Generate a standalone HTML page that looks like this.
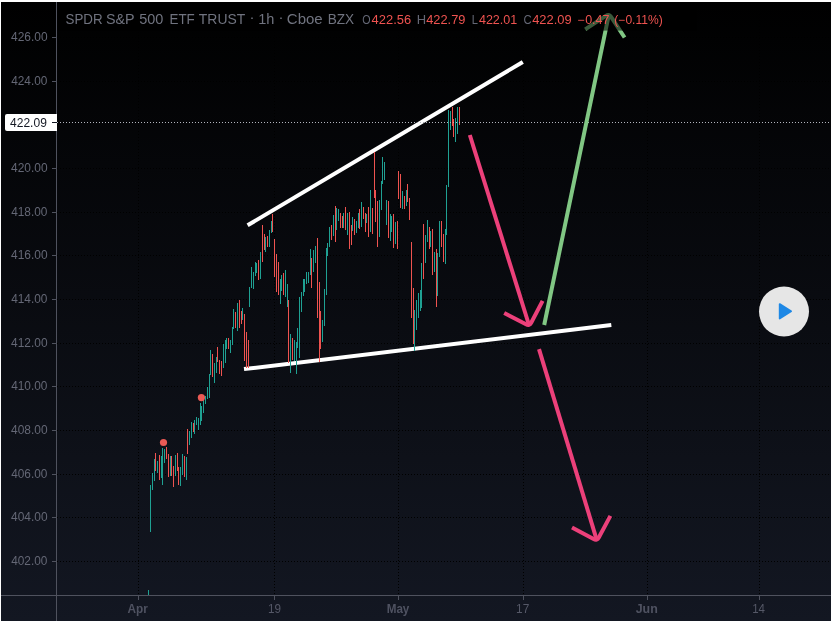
<!DOCTYPE html><html><head><meta charset="utf-8"><title>SPDR S&amp;P 500 ETF TRUST</title><style>html,body{margin:0;padding:0;background:#000;}#c{position:relative;width:832px;height:622px;overflow:hidden;}</style></head><body><div id="c"><svg width="832" height="622" viewBox="0 0 832 622" style="position:absolute;left:0;top:0"><defs><linearGradient id="bg" x1="0" y1="0" x2="0" y2="1"><stop offset="0" stop-color="#000000"/><stop offset="1" stop-color="#131722"/></linearGradient></defs><rect x="0" y="0" width="832" height="622" fill="#ffffff"/><rect x="1" y="2" width="830" height="619" fill="url(#bg)"/><g shape-rendering="crispEdges"><path d="M57 37.5H831" stroke="#000" stroke-width="1" stroke-dasharray="1 2" stroke-dashoffset="0"/><path d="M57 81.5H831" stroke="#000" stroke-width="1" stroke-dasharray="1 2" stroke-dashoffset="0"/><path d="M57 168.5H831" stroke="#000" stroke-width="1" stroke-dasharray="1 2" stroke-dashoffset="0"/><path d="M57 212.5H831" stroke="#000" stroke-width="1" stroke-dasharray="1 2" stroke-dashoffset="0"/><path d="M57 255.5H831" stroke="#000" stroke-width="1" stroke-dasharray="1 2" stroke-dashoffset="0"/><path d="M57 299.5H831" stroke="#000" stroke-width="1" stroke-dasharray="1 2" stroke-dashoffset="0"/><path d="M57 343.5H831" stroke="#000" stroke-width="1" stroke-dasharray="1 2" stroke-dashoffset="0"/><path d="M57 386.5H831" stroke="#000" stroke-width="1" stroke-dasharray="1 2" stroke-dashoffset="0"/><path d="M57 430.5H831" stroke="#000" stroke-width="1" stroke-dasharray="1 2" stroke-dashoffset="0"/><path d="M57 474.5H831" stroke="#000" stroke-width="1" stroke-dasharray="1 2" stroke-dashoffset="0"/><path d="M57 517.5H831" stroke="#000" stroke-width="1" stroke-dasharray="1 2" stroke-dashoffset="0"/><path d="M57 561.5H831" stroke="#000" stroke-width="1" stroke-dasharray="1 2" stroke-dashoffset="0"/><path d="M138.5 2V595" stroke="#000" stroke-width="1" stroke-dasharray="1 2" stroke-dashoffset="0"/><path d="M274.5 2V595" stroke="#000" stroke-width="1" stroke-dasharray="1 2" stroke-dashoffset="0"/><path d="M398.5 2V595" stroke="#000" stroke-width="1" stroke-dasharray="1 2" stroke-dashoffset="0"/><path d="M523.5 2V595" stroke="#000" stroke-width="1" stroke-dasharray="1 2" stroke-dashoffset="0"/><path d="M647.5 2V595" stroke="#000" stroke-width="1" stroke-dasharray="1 2" stroke-dashoffset="0"/><path d="M759.5 2V595" stroke="#000" stroke-width="1" stroke-dasharray="1 2" stroke-dashoffset="0"/></g><path d="M247.6 225.3L522.8 62" stroke="#fff" stroke-width="4"/><path d="M244 369.1L611.3 325.1" stroke="#fff" stroke-width="4"/><g shape-rendering="crispEdges"><rect x="148" y="590" width="1" height="5" fill="#1fa193"/><rect x="150" y="485" width="1" height="47" fill="#1fa193"/><rect x="152" y="473" width="1" height="17" fill="#1fa193"/><rect x="154" y="459" width="1" height="22" fill="#1fa193"/><rect x="155" y="453" width="1" height="18" fill="#ef5350"/><rect x="157" y="461" width="1" height="12" fill="#1fa193"/><rect x="159" y="455" width="1" height="25" fill="#ef5350"/><rect x="161" y="456" width="1" height="22" fill="#1fa193"/><rect x="162" y="448" width="1" height="37" fill="#1fa193"/><rect x="164" y="449" width="1" height="14" fill="#1fa193"/><rect x="166" y="447" width="1" height="12" fill="#ef5350"/><rect x="168" y="454" width="1" height="23" fill="#ef5350"/><rect x="170" y="456" width="1" height="20" fill="#1fa193"/><rect x="171" y="456" width="1" height="20" fill="#ef5350"/><rect x="173" y="466" width="1" height="21" fill="#ef5350"/><rect x="175" y="455" width="1" height="21" fill="#1fa193"/><rect x="177" y="453" width="1" height="18" fill="#ef5350"/><rect x="178" y="467" width="1" height="18" fill="#ef5350"/><rect x="180" y="467" width="1" height="19" fill="#1fa193"/><rect x="182" y="454" width="1" height="21" fill="#1fa193"/><rect x="184" y="456" width="1" height="21" fill="#ef5350"/><rect x="186" y="457" width="1" height="23" fill="#1fa193"/><rect x="187" y="429" width="1" height="25" fill="#ef5350"/><rect x="189" y="431" width="1" height="14" fill="#1fa193"/><rect x="191" y="422" width="1" height="16" fill="#1fa193"/><rect x="193" y="423" width="1" height="9" fill="#ef5350"/><rect x="194" y="420" width="1" height="14" fill="#1fa193"/><rect x="196" y="417" width="1" height="8" fill="#1fa193"/><rect x="198" y="418" width="1" height="12" fill="#1fa193"/><rect x="200" y="403" width="1" height="22" fill="#1fa193"/><rect x="201" y="406" width="1" height="15" fill="#1fa193"/><rect x="203" y="400" width="1" height="13" fill="#1fa193"/><rect x="205" y="396" width="1" height="8" fill="#1fa193"/><rect x="207" y="387" width="1" height="12" fill="#1fa193"/><rect x="209" y="374" width="1" height="24" fill="#1fa193"/><rect x="210" y="350" width="1" height="25" fill="#1fa193"/><rect x="212" y="354" width="1" height="23" fill="#ef5350"/><rect x="214" y="363" width="1" height="20" fill="#1fa193"/><rect x="216" y="357" width="1" height="16" fill="#1fa193"/><rect x="217" y="347" width="1" height="15" fill="#ef5350"/><rect x="219" y="360" width="1" height="14" fill="#ef5350"/><rect x="221" y="361" width="1" height="15" fill="#ef5350"/><rect x="223" y="344" width="1" height="24" fill="#1fa193"/><rect x="225" y="340" width="1" height="23" fill="#1fa193"/><rect x="226" y="338" width="1" height="11" fill="#1fa193"/><rect x="228" y="338" width="1" height="11" fill="#ef5350"/><rect x="230" y="340" width="1" height="13" fill="#1fa193"/><rect x="232" y="327" width="1" height="18" fill="#1fa193"/><rect x="233" y="309" width="1" height="20" fill="#1fa193"/><rect x="235" y="312" width="1" height="16" fill="#ef5350"/><rect x="237" y="303" width="1" height="28" fill="#1fa193"/><rect x="239" y="300" width="1" height="28" fill="#ef5350"/><rect x="241" y="311" width="1" height="13" fill="#ef5350"/><rect x="242" y="308" width="1" height="12" fill="#1fa193"/><rect x="244" y="314" width="1" height="47" fill="#ef5350"/><rect x="246" y="332" width="1" height="36" fill="#ef5350"/><rect x="248" y="340" width="1" height="28" fill="#ef5350"/><rect x="249" y="287" width="1" height="20" fill="#1fa193"/><rect x="251" y="267" width="1" height="21" fill="#1fa193"/><rect x="253" y="272" width="1" height="17" fill="#1fa193"/><rect x="255" y="262" width="1" height="14" fill="#1fa193"/><rect x="256" y="263" width="1" height="10" fill="#1fa193"/><rect x="258" y="260" width="1" height="20" fill="#ef5350"/><rect x="260" y="252" width="1" height="27" fill="#1fa193"/><rect x="262" y="225" width="1" height="37" fill="#ef5350"/><rect x="264" y="234" width="1" height="16" fill="#ef5350"/><rect x="265" y="237" width="1" height="15" fill="#1fa193"/><rect x="267" y="236" width="1" height="11" fill="#ef5350"/><rect x="269" y="230" width="1" height="17" fill="#1fa193"/><rect x="271" y="221" width="1" height="12" fill="#1fa193"/><rect x="272" y="214" width="1" height="18" fill="#ef5350"/><rect x="274" y="239" width="1" height="38" fill="#ef5350"/><rect x="276" y="254" width="1" height="38" fill="#ef5350"/><rect x="278" y="262" width="1" height="33" fill="#ef5350"/><rect x="280" y="279" width="1" height="25" fill="#1fa193"/><rect x="281" y="275" width="1" height="16" fill="#1fa193"/><rect x="283" y="273" width="1" height="22" fill="#ef5350"/><rect x="285" y="270" width="1" height="27" fill="#1fa193"/><rect x="287" y="284" width="1" height="23" fill="#1fa193"/><rect x="288" y="300" width="1" height="63" fill="#ef5350"/><rect x="290" y="334" width="1" height="39" fill="#1fa193"/><rect x="292" y="338" width="1" height="22" fill="#ef5350"/><rect x="294" y="340" width="1" height="21" fill="#1fa193"/><rect x="296" y="342" width="1" height="32" fill="#1fa193"/><rect x="297" y="328" width="1" height="20" fill="#1fa193"/><rect x="299" y="297" width="1" height="61" fill="#1fa193"/><rect x="301" y="292" width="1" height="20" fill="#1fa193"/><rect x="303" y="279" width="1" height="17" fill="#1fa193"/><rect x="304" y="279" width="1" height="13" fill="#1fa193"/><rect x="306" y="272" width="1" height="12" fill="#1fa193"/><rect x="308" y="272" width="1" height="11" fill="#1fa193"/><rect x="310" y="249" width="1" height="26" fill="#1fa193"/><rect x="311" y="258" width="1" height="30" fill="#ef5350"/><rect x="313" y="250" width="1" height="22" fill="#1fa193"/><rect x="315" y="246" width="1" height="17" fill="#1fa193"/><rect x="317" y="238" width="1" height="80" fill="#ef5350"/><rect x="319" y="282" width="1" height="80" fill="#ef5350"/><rect x="320" y="311" width="1" height="38" fill="#ef5350"/><rect x="322" y="320" width="1" height="22" fill="#1fa193"/><rect x="324" y="289" width="1" height="37" fill="#1fa193"/><rect x="326" y="248" width="1" height="47" fill="#1fa193"/><rect x="327" y="243" width="1" height="13" fill="#1fa193"/><rect x="329" y="227" width="1" height="20" fill="#1fa193"/><rect x="331" y="225" width="1" height="15" fill="#ef5350"/><rect x="333" y="215" width="1" height="21" fill="#1fa193"/><rect x="335" y="206" width="1" height="36" fill="#ef5350"/><rect x="336" y="208" width="1" height="22" fill="#1fa193"/><rect x="338" y="209" width="1" height="12" fill="#1fa193"/><rect x="340" y="213" width="1" height="15" fill="#ef5350"/><rect x="342" y="216" width="1" height="12" fill="#ef5350"/><rect x="343" y="213" width="1" height="15" fill="#1fa193"/><rect x="345" y="207" width="1" height="23" fill="#ef5350"/><rect x="347" y="213" width="1" height="22" fill="#1fa193"/><rect x="349" y="212" width="1" height="37" fill="#ef5350"/><rect x="351" y="225" width="1" height="20" fill="#ef5350"/><rect x="352" y="217" width="1" height="14" fill="#1fa193"/><rect x="354" y="219" width="1" height="16" fill="#ef5350"/><rect x="356" y="221" width="1" height="12" fill="#1fa193"/><rect x="358" y="213" width="1" height="15" fill="#1fa193"/><rect x="359" y="209" width="1" height="20" fill="#ef5350"/><rect x="361" y="202" width="1" height="25" fill="#1fa193"/><rect x="363" y="207" width="1" height="12" fill="#ef5350"/><rect x="365" y="213" width="1" height="19" fill="#ef5350"/><rect x="366" y="214" width="1" height="9" fill="#1fa193"/><rect x="368" y="207" width="1" height="30" fill="#ef5350"/><rect x="370" y="190" width="1" height="42" fill="#1fa193"/><rect x="372" y="208" width="1" height="26" fill="#ef5350"/><rect x="374" y="152" width="1" height="46" fill="#ef5350"/><rect x="375" y="190" width="1" height="32" fill="#ef5350"/><rect x="377" y="201" width="1" height="46" fill="#ef5350"/><rect x="379" y="200" width="1" height="37" fill="#1fa193"/><rect x="381" y="181" width="1" height="29" fill="#1fa193"/><rect x="382" y="157" width="1" height="27" fill="#1fa193"/><rect x="384" y="162" width="1" height="18" fill="#1fa193"/><rect x="386" y="200" width="1" height="25" fill="#1fa193"/><rect x="388" y="201" width="1" height="37" fill="#ef5350"/><rect x="390" y="214" width="1" height="27" fill="#1fa193"/><rect x="391" y="216" width="1" height="16" fill="#1fa193"/><rect x="393" y="214" width="1" height="34" fill="#ef5350"/><rect x="395" y="222" width="1" height="22" fill="#1fa193"/><rect x="397" y="221" width="1" height="28" fill="#ef5350"/><rect x="398" y="171" width="1" height="28" fill="#ef5350"/><rect x="400" y="174" width="1" height="34" fill="#ef5350"/><rect x="402" y="191" width="1" height="18" fill="#1fa193"/><rect x="404" y="196" width="1" height="13" fill="#ef5350"/><rect x="406" y="190" width="1" height="16" fill="#1fa193"/><rect x="407" y="184" width="1" height="18" fill="#ef5350"/><rect x="409" y="198" width="1" height="22" fill="#ef5350"/><rect x="411" y="242" width="1" height="76" fill="#ef5350"/><rect x="413" y="288" width="1" height="56" fill="#ef5350"/><rect x="414" y="310" width="1" height="41" fill="#1fa193"/><rect x="416" y="300" width="1" height="30" fill="#1fa193"/><rect x="418" y="293" width="1" height="25" fill="#1fa193"/><rect x="420" y="290" width="1" height="21" fill="#1fa193"/><rect x="421" y="263" width="1" height="45" fill="#1fa193"/><rect x="423" y="224" width="1" height="55" fill="#ef5350"/><rect x="425" y="235" width="1" height="28" fill="#1fa193"/><rect x="427" y="220" width="1" height="22" fill="#1fa193"/><rect x="429" y="227" width="1" height="22" fill="#ef5350"/><rect x="430" y="231" width="1" height="16" fill="#1fa193"/><rect x="432" y="229" width="1" height="46" fill="#ef5350"/><rect x="434" y="252" width="1" height="20" fill="#1fa193"/><rect x="436" y="249" width="1" height="58" fill="#ef5350"/><rect x="437" y="253" width="1" height="43" fill="#1fa193"/><rect x="439" y="221" width="1" height="36" fill="#1fa193"/><rect x="441" y="221" width="1" height="26" fill="#ef5350"/><rect x="443" y="234" width="1" height="28" fill="#ef5350"/><rect x="445" y="229" width="1" height="35" fill="#1fa193"/><rect x="446" y="185" width="1" height="50" fill="#1fa193"/><rect x="448" y="110" width="1" height="77" fill="#1fa193"/><rect x="450" y="111" width="1" height="19" fill="#1fa193"/><rect x="452" y="107" width="1" height="19" fill="#ef5350"/><rect x="453" y="119" width="1" height="18" fill="#ef5350"/><rect x="455" y="118" width="1" height="24" fill="#1fa193"/><rect x="457" y="107" width="1" height="27" fill="#1fa193"/><rect x="459" y="107" width="1" height="18" fill="#ef5350"/></g><circle cx="163.5" cy="442.5" r="3.6" fill="#ea5a55"/><circle cx="201.4" cy="397.6" r="3.6" fill="#ea5a55"/><path d="M57 122.5H831" stroke="#b2b5be" stroke-width="1" stroke-dasharray="1 2" shape-rendering="crispEdges"/><g shape-rendering="crispEdges" fill="#4f525e"><rect x="56" y="2" width="1" height="619"/><rect x="1" y="595" width="830" height="1"/><rect x="52" y="37" width="4" height="1"/><rect x="52" y="81" width="4" height="1"/><rect x="52" y="168" width="4" height="1"/><rect x="52" y="212" width="4" height="1"/><rect x="52" y="255" width="4" height="1"/><rect x="52" y="299" width="4" height="1"/><rect x="52" y="343" width="4" height="1"/><rect x="52" y="386" width="4" height="1"/><rect x="52" y="430" width="4" height="1"/><rect x="52" y="474" width="4" height="1"/><rect x="52" y="517" width="4" height="1"/><rect x="52" y="561" width="4" height="1"/><rect x="138" y="596" width="1" height="4"/><rect x="274" y="596" width="1" height="4"/><rect x="398" y="596" width="1" height="4"/><rect x="523" y="596" width="1" height="4"/><rect x="647" y="596" width="1" height="4"/><rect x="759" y="596" width="1" height="4"/></g><path d="M469.8 135.0L529.0 325.0" stroke="#ec407a" stroke-width="4" fill="none"/><path d="M504.2 312.9L526.0 324.3Q529.4 326.1 531.2 322.7L542.6 300.9" stroke="#ec407a" stroke-width="4" fill="none" stroke-linejoin="round"/><path d="M539.0 349.2L596.7 539.8" stroke="#ec407a" stroke-width="4" fill="none"/><path d="M572.0 527.5L593.6 539.1Q597.0 540.9 598.8 537.5L610.4 515.9" stroke="#ec407a" stroke-width="4" fill="none" stroke-linejoin="round"/><path d="M544.2 325.0L608.8 14.9" stroke="#81c784" stroke-width="4" fill="none"/><path d="M624.6 37.5L611.1 16.9Q609.0 13.7 605.8 15.8L585.2 29.3" stroke="#81c784" stroke-width="4" fill="none" stroke-linejoin="round"/><rect x="57" y="8" width="640" height="22.6" fill="#000" fill-opacity="0.55"/><circle cx="784" cy="311.5" r="25" fill="#e6e6e6"/><path d="M779.7 304.1L791.1 311.3L779.7 318.5Z" fill="#1e88e5" stroke="#1e88e5" stroke-width="1.8" stroke-linejoin="round"/><path d="M57 114H7a2 2 0 0 0-2 2v13a2 2 0 0 0 2 2H57Z" fill="#fff"/><rect x="52" y="122" width="5" height="1" fill="#131722"/></svg><svg width="832" height="622" viewBox="0 0 832 622" style="position:absolute;left:0;top:0;will-change:transform" font-family="Liberation Sans, DejaVu Sans, sans-serif"><text x="65.5" y="23.5" font-size="15" fill="#70737f" text-anchor="start" textLength="37.12" lengthAdjust="spacingAndGlyphs">SPDR</text><text x="106.03" y="23.5" font-size="15" fill="#70737f" text-anchor="start" textLength="28.62" lengthAdjust="spacingAndGlyphs">S&amp;P</text><text x="139.18" y="23.5" font-size="15" fill="#70737f" text-anchor="start" textLength="24.15" lengthAdjust="spacingAndGlyphs">500</text><text x="169.46" y="23.5" font-size="15" fill="#70737f" text-anchor="start" textLength="25.3" lengthAdjust="spacingAndGlyphs">ETF</text><text x="198.86" y="23.5" font-size="15" fill="#70737f" text-anchor="start" textLength="46.36" lengthAdjust="spacingAndGlyphs">TRUST</text><text x="252.0" y="22.3" font-size="15" fill="#70737f" text-anchor="middle">·</text><text x="258.29" y="23.5" font-size="15" fill="#70737f" text-anchor="start" textLength="16.15" lengthAdjust="spacingAndGlyphs">1h</text><text x="281.0" y="22.3" font-size="15" fill="#70737f" text-anchor="middle">·</text><text x="286.82" y="23.5" font-size="15" fill="#70737f" text-anchor="start" textLength="35.86" lengthAdjust="spacingAndGlyphs">Cboe</text><text x="327.72" y="23.5" font-size="15" fill="#70737f" text-anchor="start" textLength="26.47" lengthAdjust="spacingAndGlyphs">BZX</text><text x="362.21" y="23.5" font-size="11.9" fill="#646775" text-anchor="start" textLength="8.32" lengthAdjust="spacingAndGlyphs">O</text><text x="371.58" y="23.5" font-size="11.9" fill="#ef5350" text-anchor="start" textLength="39.53" lengthAdjust="spacingAndGlyphs">422.56</text><text x="416.82" y="23.5" font-size="11.9" fill="#646775" text-anchor="start" textLength="9.36" lengthAdjust="spacingAndGlyphs">H</text><text x="426.2" y="23.5" font-size="11.9" fill="#ef5350" text-anchor="start" textLength="39.23" lengthAdjust="spacingAndGlyphs">422.79</text><text x="471.8" y="23.5" font-size="11.9" fill="#646775" text-anchor="start" textLength="6.16" lengthAdjust="spacingAndGlyphs">L</text><text x="478.91" y="23.5" font-size="11.9" fill="#ef5350" text-anchor="start" textLength="38.34" lengthAdjust="spacingAndGlyphs">422.01</text><text x="523.43" y="23.5" font-size="11.9" fill="#646775" text-anchor="start" textLength="8.21" lengthAdjust="spacingAndGlyphs">C</text><text x="532.16" y="23.5" font-size="11.9" fill="#ef5350" text-anchor="start" textLength="39.47" lengthAdjust="spacingAndGlyphs">422.09</text><text x="577.85" y="23.5" font-size="11.9" fill="#ef5350" text-anchor="start" textLength="31.66" lengthAdjust="spacingAndGlyphs">−0.47</text><text x="614.36" y="23.5" font-size="11.9" fill="#ef5350" text-anchor="start" textLength="48.38" lengthAdjust="spacingAndGlyphs">(−0.11%)</text><text x="11.06" y="40.9" font-size="12" fill="#646775" text-anchor="start" textLength="36.53" lengthAdjust="spacingAndGlyphs">426.00</text><text x="11.2" y="84.9" font-size="12" fill="#646775" text-anchor="start" textLength="36.21" lengthAdjust="spacingAndGlyphs">424.00</text><text x="11.06" y="171.9" font-size="12" fill="#646775" text-anchor="start" textLength="36.53" lengthAdjust="spacingAndGlyphs">420.00</text><text x="11.2" y="215.9" font-size="12" fill="#646775" text-anchor="start" textLength="36.21" lengthAdjust="spacingAndGlyphs">418.00</text><text x="11.06" y="258.9" font-size="12" fill="#646775" text-anchor="start" textLength="36.53" lengthAdjust="spacingAndGlyphs">416.00</text><text x="11.2" y="302.9" font-size="12" fill="#646775" text-anchor="start" textLength="36.21" lengthAdjust="spacingAndGlyphs">414.00</text><text x="11.06" y="346.9" font-size="12" fill="#646775" text-anchor="start" textLength="36.53" lengthAdjust="spacingAndGlyphs">412.00</text><text x="11.2" y="389.9" font-size="12" fill="#646775" text-anchor="start" textLength="36.21" lengthAdjust="spacingAndGlyphs">410.00</text><text x="11.06" y="433.9" font-size="12" fill="#646775" text-anchor="start" textLength="36.53" lengthAdjust="spacingAndGlyphs">408.00</text><text x="11.2" y="477.9" font-size="12" fill="#646775" text-anchor="start" textLength="36.21" lengthAdjust="spacingAndGlyphs">406.00</text><text x="11.06" y="520.9" font-size="12" fill="#646775" text-anchor="start" textLength="36.53" lengthAdjust="spacingAndGlyphs">404.00</text><text x="11.2" y="564.9" font-size="12" fill="#646775" text-anchor="start" textLength="36.21" lengthAdjust="spacingAndGlyphs">402.00</text><text x="10.05" y="126.9" font-size="12" fill="#131722" text-anchor="start" textLength="36.78" lengthAdjust="spacingAndGlyphs">422.09</text><text x="127.51" y="613" font-size="12" fill="#4f5261" font-weight="bold" text-anchor="start" textLength="20.3" lengthAdjust="spacingAndGlyphs">Apr</text><text x="267.93" y="613" font-size="12" fill="#555867" text-anchor="start" textLength="13.01" lengthAdjust="spacingAndGlyphs">19</text><text x="386.67" y="613" font-size="12" fill="#4f5261" font-weight="bold" text-anchor="start" textLength="22.7" lengthAdjust="spacingAndGlyphs">May</text><text x="516.04" y="613" font-size="12" fill="#555867" text-anchor="start" textLength="13.24" lengthAdjust="spacingAndGlyphs">17</text><text x="635.68" y="613" font-size="12" fill="#4f5261" font-weight="bold" text-anchor="start" textLength="22.09" lengthAdjust="spacingAndGlyphs">Jun</text><text x="752.22" y="613" font-size="12" fill="#555867" text-anchor="start" textLength="12.82" lengthAdjust="spacingAndGlyphs">14</text></svg></div></body></html>
